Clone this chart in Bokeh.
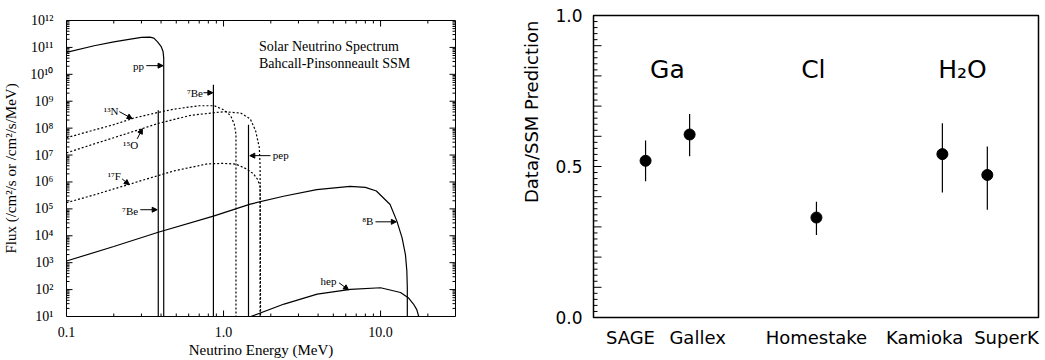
import math
from bokeh.plotting import figure
from bokeh.layouts import row
from bokeh.models import (CustomJSTickFormatter, Arrow, NormalHead, Title, FixedTicker,
                          ColumnDataSource)
from bokeh.core.properties import value
from bokeh.embed import file_html
from bokeh.resources import INLINE

# ---------------- left panel: solar neutrino spectrum ----------------
pp_E = [0.1, 0.15, 0.2, 0.25, 0.3, 0.34, 0.36, 0.38, 0.40, 0.412, 0.416, 0.416]
pp_flux = [6.5e10, 1.15e11, 1.6e11, 2.0e11, 2.35e11, 2.4e11, 2.2e11, 1.6e11, 1.1e11, 7e10, 4e10, 10]

n13_E = [0.1, 0.15, 0.2, 0.264, 0.3, 0.38, 0.486, 0.7, 0.873, 1.01, 1.11, 1.17, 1.20, 1.20]
n13_flux = [4.4e7, 8.5e7, 1.35e8, 2.3e8, 2.75e8, 3.8e8, 5.1e8, 6.8e8, 6.8e8, 4.7e8, 2.9e8, 1.4e8, 6.0e7, 10]

o15_E = [0.1, 0.15, 0.2, 0.299, 0.384, 0.62, 1.01, 1.29, 1.48, 1.60, 1.69, 1.71, 1.71]
o15_flux = [1.2e7, 2.6e7, 4.4e7, 9.3e7, 1.5e8, 3.0e8, 4.1e8, 3.6e8, 2.2e8, 8e7, 1.9e7, 3.5e6, 10]

f17_E = [0.1, 0.15, 0.2, 0.25, 0.299, 0.486, 0.79, 1.0, 1.2, 1.41, 1.55, 1.64, 1.71, 1.72]
f17_flux = [1.7e5, 3.3e5, 5.5e5, 8.1e5, 1.12e6, 2.6e6, 4.7e6, 4.9e6, 4.6e6, 3.0e6, 2.0e6, 1.3e6, 7e5, 10]

b8_E = [0.1, 0.2, 0.384, 0.862, 1.48, 2.41, 3.92, 6.4, 8.0, 9.4, 11.5, 12.7, 13.7, 14.4, 14.7, 14.8, 14.8]
b8_flux = [1.15e3, 4.0e3, 1.35e4, 5.4e4, 1.5e5, 2.95e5, 5.2e5, 6.9e5, 6.3e5, 4.6e5, 1.45e5,
           3.5e4, 8.5e3, 2.0e3, 4.9e2, 1.2e2, 10]

hep_E = [1.49, 2.43, 3.95, 6.43, 10.0, 13.4, 15.0, 16.2, 17.0, 17.5]
hep_flux = [10, 29, 68, 102, 117, 78, 50, 29, 18, 10]

line_E = [0.384, 0.862, 1.442]          # 7Be (two lines) and pep
line_flux = [4.6e8, 4.1e9, 1.35e8]

flux_min, flux_max = 10, 1e12
E_min, E_max = 0.1, 30

# tick values of the left panel
x_major = [0.1, 1.0, 10.0]
x_minor = [k * 10.0 ** n for n in (-1, 0, 1) for k in range(2, 10) if k * 10.0 ** n < E_max]
y_major = [10.0 ** n for n in range(1, 13)]
y_minor = [k * 10.0 ** n for n in range(1, 12) for k in range(2, 10)]

# annotation labels (energy, flux)
lab_r_text = ["pp", "⁷Be", "¹³N", "¹⁵O", "¹⁷F", "⁷Be", "⁸B", "hep"]
lab_r_E = [0.312, 0.74, 0.214, 0.286, 0.222, 0.286, 9.0, 5.24]
lab_r_flux = [2.1e10, 2.07e9, 4.4e8, 2.4e7, 1.7e6, 8.5e4, 3.6e4, 212]
lab_l_text = ["pep"]
lab_l_E = [2.06]
lab_l_flux = [1.02e7]

arr_x0 = [0.322, 0.745, 0.217, 0.282, 0.226, 0.295, 1.99, 9.28, 5.44]
arr_y0 = [2.1e10, 2.07e9, 4.1e8, 4.0e7, 1.3e6, 9.3e4, 9.5e6, 3.3e4, 179]
arr_x1 = [0.412, 0.855, 0.262, 0.304, 0.251, 0.378, 1.47, 12.6, 6.25]
arr_y1 = [2.1e10, 2.07e9, 2.24e8, 9.5e7, 7.9e5, 9.3e4, 9.5e6, 3.3e4, 98]

title_lines = ["Solar Neutrino Spectrum", "Bahcall-Pinsonneault SSM"]
title_E = [1.68, 1.68]
title_flux = [1.07e11, 2.5e10]

# ---------------- right panel: data / SSM ----------------
experiments = ["SAGE", "Gallex", "Homestake", "Kamioka", "SuperK"]
exp_x = [1.17, 2.16, 5.01, 7.84, 8.85]
exp_label_x = [0.83, 2.34, 5.01, 7.44, 9.28]
ratio = [0.519, 0.606, 0.331, 0.541, 0.472]
err_up = [0.067, 0.068, 0.052, 0.102, 0.094]
err_dn = [0.068, 0.072, 0.058, 0.127, 0.115]
groups = ["Ga", "Cl", "H₂O"]
group_x = [1.66, 4.94, 8.29]
group_y = [0.82, 0.82, 0.82]
y_tick_labels = ["0.0", "0.5", "1.0"]
r_major = [i / 10 for i in range(0, 11)]
r_minor = [i / 50 for i in range(1, 50) if i % 5]

SERIF = "Liberation Serif"
SANS = "DejaVu Sans"

# frame geometry (px) used to size the inside tick marks
L_W, L_H = 390, 296
R_W, R_H = 445, 302


def hide_ticks(ax):
    ax.major_tick_line_color = None
    ax.minor_tick_line_color = None
    ax.axis_line_color = None


def no_align(p):
    if "frame_align" in p.properties():
        p.frame_align = False


def tick_marks(p, x0, y0, x1, y1):
    src = ColumnDataSource(dict(x0=x0, y0=y0, x1=x1, y1=y1))
    p.add_layout(Arrow(source=src, x_start="x0", y_start="y0", x_end="x1", y_end="y1",
                       end=None, line_color="black", line_width=1, level="overlay"))


# ================= left figure =================
p1 = figure(width=470, height=360, x_axis_type="log", y_axis_type="log",
            x_range=(E_min, E_max), y_range=(flux_min, flux_max),
            output_backend="svg", toolbar_location=None,
            min_border_left=65, min_border_right=15, min_border_top=20, min_border_bottom=44)
no_align(p1)
p1.grid.visible = False
p1.outline_line_color = "black"
p1.outline_line_width = 1

sup_code = """
const sup = {"0":"⁰","1":"¹","2":"²","3":"³","4":"⁴","5":"⁵","6":"⁶","7":"⁷","8":"⁸","9":"⁹","-":"⁻"};
const e = Math.round(Math.log10(tick));
return "10" + String(e).split("").map(c => sup[c]).join("");
"""

for ax in (p1.xaxis[0], p1.yaxis[0]):
    hide_ticks(ax)
    ax.major_label_text_font = SERIF
    ax.major_label_text_font_size = "14px"
    ax.major_label_text_color = "black"
    ax.axis_label_text_font = SERIF
    ax.axis_label_text_font_size = "15px"
    ax.axis_label_text_font_style = "normal"
    ax.axis_label_text_color = "black"

xa = p1.xaxis[0]
xa.ticker = FixedTicker(ticks=x_major, minor_ticks=[])
xa.formatter = CustomJSTickFormatter(code="return tick.toFixed(1);")
xa.axis_label = "Neutrino Energy (MeV)"
xa.major_label_standoff = 4
xa.axis_label_standoff = 2

ya = p1.yaxis[0]
ya.ticker = FixedTicker(ticks=y_major, minor_ticks=[])
ya.formatter = CustomJSTickFormatter(code=sup_code)
ya.axis_label = "Flux (/cm²/s or /cm²/s/MeV)"
ya.major_label_standoff = 7
ya.axis_label_standoff = 8

solid = dict(line_color="black", line_width=1.2)
dotted = dict(line_color="black", line_width=1.2, line_dash="2 2")
p1.line(pp_E, pp_flux, **solid)
p1.line(b8_E, b8_flux, **solid)
p1.line(hep_E, hep_flux, **solid)
p1.line(n13_E, n13_flux, **dotted)
p1.line(o15_E, o15_flux, **dotted)
p1.line(f17_E, f17_flux, **dotted)
p1.segment(x0=line_E, y0=[flux_min] * len(line_E), x1=line_E, y1=line_flux,
           line_color="black", line_width=1.2)

p1.text(x=lab_r_E, y=lab_r_flux, text=lab_r_text, text_align="right", text_baseline="middle",
        text_font=value(SERIF), text_font_size="11px", text_color="black")
p1.text(x=lab_l_E, y=lab_l_flux, text=lab_l_text, text_align="left", text_baseline="middle",
        text_font=value(SERIF), text_font_size="11px", text_color="black")
p1.text(x=title_E, y=title_flux, text=title_lines, text_align="left", text_baseline="middle",
        text_font=value(SERIF), text_font_size="14px", text_color="black")

for x0, y0, x1, y1 in zip(arr_x0, arr_y0, arr_x1, arr_y1):
    p1.add_layout(Arrow(x_start=x0, y_start=y0, x_end=x1, y_end=y1,
                        line_color="black", line_width=1,
                        end=NormalHead(size=5, fill_color="black", line_color="black", line_width=1)))

# inside ticks on all four sides
dec_x = math.log10(E_max / E_min) / L_W      # decades per px
dec_y = math.log10(flux_max / flux_min) / L_H
tx0, ty0, tx1, ty1 = [], [], [], []
for ticks, length in ((y_major, 6), (y_minor, 3)):
    f = 10 ** (length * dec_x)
    for t in ticks:
        tx0 += [E_min, E_max]
        tx1 += [E_min * f, E_max / f]
        ty0 += [t, t]
        ty1 += [t, t]
for ticks, length in ((x_major, 6), (x_minor, 3)):
    f = 10 ** (length * dec_y)
    for t in ticks:
        tx0 += [t, t]
        tx1 += [t, t]
        ty0 += [flux_min, flux_max]
        ty1 += [flux_min * f, flux_max / f]
tick_marks(p1, tx0, ty0, tx1, ty1)

# ================= right figure =================
p2 = figure(width=575, height=360, x_range=(0, 10), y_range=(0, 1),
            output_backend="svg", toolbar_location=None,
            min_border_left=123, min_border_right=7, min_border_top=15, min_border_bottom=43)
no_align(p2)
p2.grid.visible = False
p2.outline_line_color = "black"
p2.outline_line_width = 1.5

yax = p2.yaxis[0]
hide_ticks(yax)
yax.ticker = FixedTicker(ticks=r_major, minor_ticks=[])
yax.formatter = CustomJSTickFormatter(args=dict(labels=y_tick_labels), code="""
for (const s of labels) { if (Math.abs(parseFloat(s) - tick) < 1e-6) return s; }
return " ";
""")
yax.major_label_text_font = SANS
yax.major_label_text_font_size = "17px"
yax.major_label_text_color = "black"
yax.major_label_standoff = 5

xax = p2.xaxis[0]
hide_ticks(xax)
xax.ticker = FixedTicker(ticks=exp_label_x, minor_ticks=[])
xax.formatter = CustomJSTickFormatter(args=dict(pos=exp_label_x, names=experiments), code="""
for (let i = 0; i < pos.length; i++) { if (Math.abs(pos[i] - tick) < 1e-6) return names[i]; }
return " ";
""")
xax.major_label_text_font = SANS
xax.major_label_text_font_size = "18px"
xax.major_label_text_color = "black"
xax.major_label_standoff = 3

lo = [r - d for r, d in zip(ratio, err_dn)]
hi = [r + u for r, u in zip(ratio, err_up)]
p2.segment(x0=exp_x, y0=lo, x1=exp_x, y1=hi, line_color="black", line_width=1.2)
p2.scatter(exp_x, ratio, size=11, color="black")
p2.text(x=group_x, y=group_y, text=groups, text_align="center", text_baseline="middle",
        text_font=value(SANS), text_font_size="25px", text_color="black")

units_per_px = 10 / R_W
rx0, rx1, ry0, ry1 = [], [], [], []
for ticks, length in ((r_major, 8), (r_minor, 4)):
    for t in ticks:
        rx0.append(0.0)
        rx1.append(length * units_per_px)
        ry0.append(t)
        ry1.append(t)
tick_marks(p2, rx0, ry0, rx1, ry1)

p2.add_layout(Title(text="Data/SSM Prediction", align="right", offset=5, standoff=22,
                    text_font=SANS, text_font_size="18px", text_font_style="normal",
                    text_color="black"), "left")

layout = row(p1, p2)
open("out.html", "w").write(file_html(layout, INLINE))
